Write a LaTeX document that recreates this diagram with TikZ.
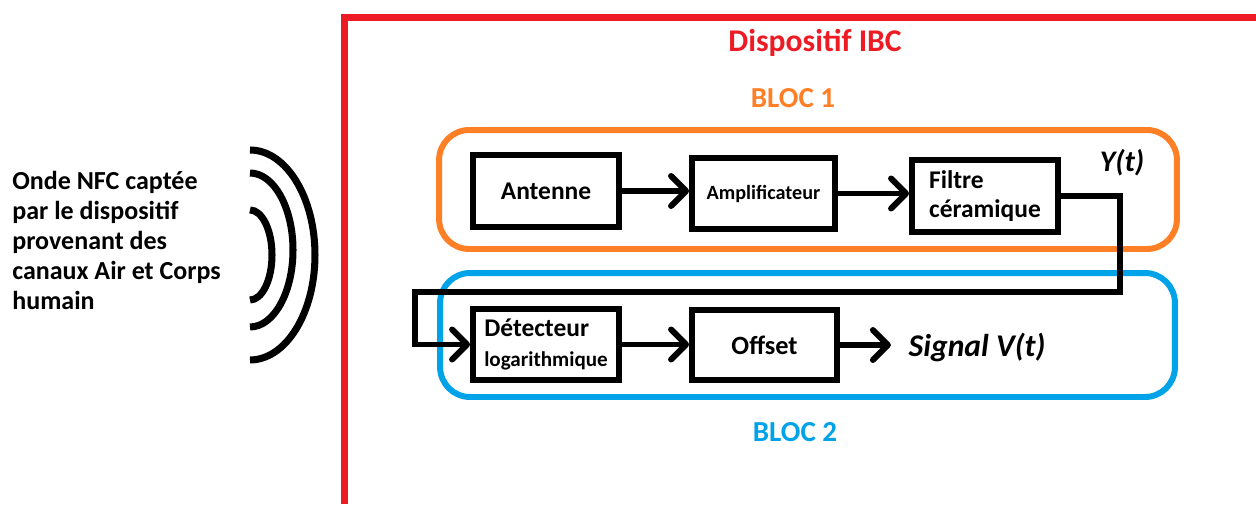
\documentclass[tikz,border=0pt]{standalone}
\usepackage{fontspec}
\setmainfont{Carlito}
\usetikzlibrary{arrows.meta,positioning}
\definecolor{ibcred}{RGB}{237,28,36}
\definecolor{blocorange}{RGB}{255,127,39}
\definecolor{blocblue}{RGB}{0,162,232}

\begin{document}
\begin{tikzpicture}[
    x=0.02cm, y=-0.02cm,
    box/.style={rectangle, draw, line width=3.4pt, align=left, font=\fontsize{14.5}{17}\selectfont\bfseries, minimum width=2.92cm, minimum height=1.44cm},
    arrow/.style={-{Straight Barb[length=0.3cm, width=0.6cm, round]}, line width=3.4pt},
    bloc/.style={rectangle, draw=#1, line width=3.4pt, rounded corners=0.6cm},
    title/.style={font=\fontsize{#1}{#1}\selectfont\bfseries},
    sig/.style={font=\fontsize{#1}{#1}\selectfont\bfseries\itshape},
    wave/.style={line width=4pt}
]
\useasboundingbox (0,0) rectangle (1256,504);

% Dispositif frame
\draw[ibcred, line width=4pt] (344.5,504) -- (344.5,17.5) -- (1256,17.5);
\node[title=18, text=ibcred] (ibc) at (815,43) {Dispositif IBC};

% Blocs
\node[bloc=blocorange, minimum width=14.76cm, minimum height=2.38cm] (bloc1) at (808,189.5) {};
\node[bloc=blocblue, minimum width=14.7cm, minimum height=2.48cm] (bloc2) at (807.5,335) {};
\node[title=16.5, text=blocorange] (bloc1_lbl) at (793,98) {BLOC 1};
\node[title=16.5, text=blocblue] (bloc2_lbl) at (795,432) {BLOC 2};

% Incoming wave
\node[anchor=north west, inner sep=0, align=left, font=\fontsize{14.8}{17}\selectfont\bfseries] (onde) at (12,171)
  {Onde NFC captée\\par le dispositif\\provenant des\\canaux Air et Corps\\humain};
\draw[wave] (250,150) arc[start angle=90, end angle=-90, x radius=1.3cm, y radius=2.1cm];
\draw[wave] (250,173) arc[start angle=90, end angle=-90, x radius=0.86cm, y radius=1.54cm];
\draw[wave] (250,210) arc[start angle=90, end angle=-90, x radius=0.44cm, y radius=0.9cm];

% Bloc 1
\node[box] (ant) at (546,191) {Antenne};
\node[box, minimum width=2.86cm, minimum height=1.42cm, font=\fontsize{11.5}{14}\selectfont\bfseries] (amp) at (763.5,193.5) {Amplificateur};
\node[box] (filt) at (985,196) {Filtre\\céramique};
\node[sig=17] (yt) at (1122,163) {Y(t)};

% Bloc 2
\node[box, minimum height=1.42cm] (det) at (546,344.5) {Détecteur\\{\fontsize{12}{14}\selectfont logarithmique}};
\node[box, minimum width=2.9cm, minimum height=1.4cm, font=\fontsize{15}{17}\selectfont\bfseries] (off) at (764.5,345) {Offset};
\node[sig=18] (vt) at (977,347) {Signal V(t)};

% Arrows
\coordinate (ycorner) at (1120,292);
\coordinate (loop) at (415,292);
\draw[arrow] (ant.east) -- (ant.east -| amp.west);
\draw[arrow] (amp.east) -- (amp.east -| filt.west);
\draw[arrow] (filt.east) -| (ycorner) -- (loop) |- (det.west);
\draw[arrow] (det.east) -- (det.east -| off.west);
\draw[arrow, shorten >=0.23cm] (off.east) -- (off.east -| vt.west);

\end{tikzpicture}
\end{document}
